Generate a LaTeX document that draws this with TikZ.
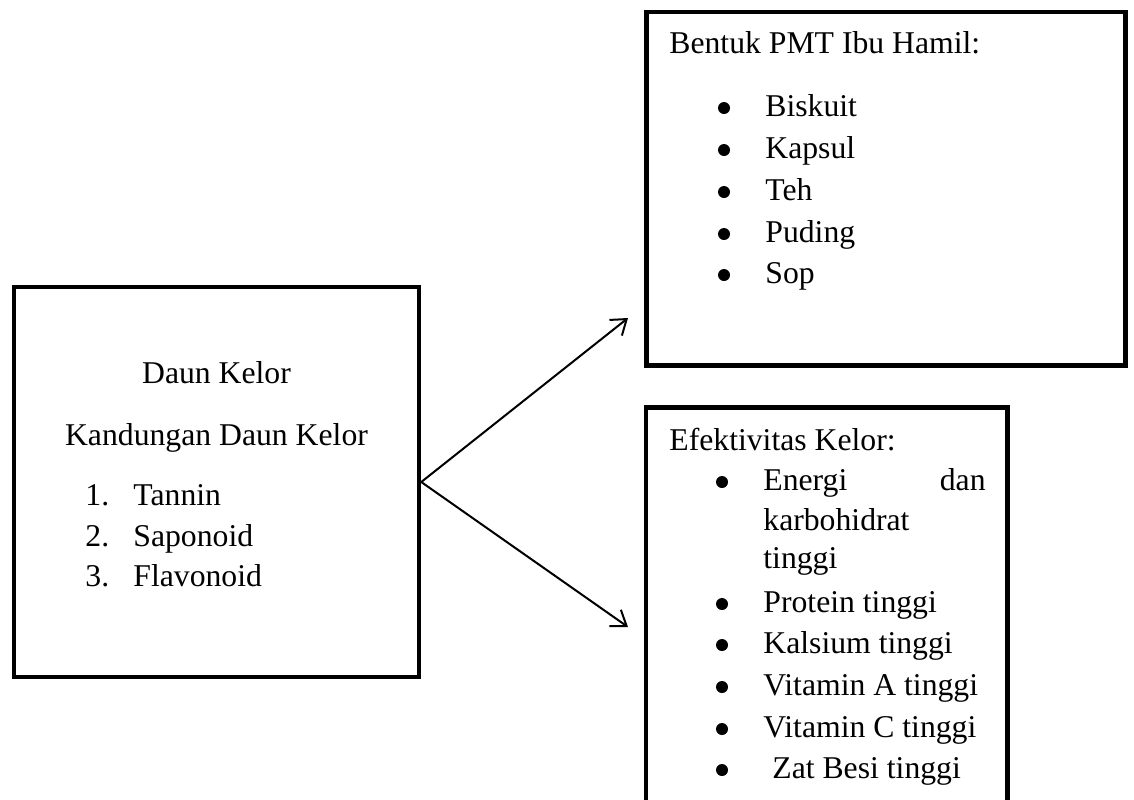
\documentclass[tikz,border=0pt]{standalone}
\usepackage{fontspec}
\setmainfont{Liberation Serif}
\usepackage{tikz}
\usetikzlibrary{arrows.meta, positioning}

\begin{document}
\begin{tikzpicture}[x=0.5pt, y=-0.5pt, font=\fontsize{15.85}{19}\selectfont]
		\tikzstyle{box} = [draw=black, rectangle, line width=2.25pt, inner sep=0pt]
		\tikzstyle{txt} = [inner sep=0pt, anchor=base west]
		\tikzstyle{mid} = [inner sep=0pt, anchor=base]
		\tikzstyle{dot} = [circle, fill=black, inner sep=0pt, minimum size=6pt]
		\tikzstyle{arrow} = [line width=1pt, -{Straight Barb[length=7pt, width=10pt, line width=1pt]}]
		
		\useasboundingbox (0, 0) rectangle (1134, 799);
		
		\node[box, minimum width=202.5pt, minimum height=195pt]		at (216.5, 482)		(kelor)	{};
		\node[box, minimum width=239.5pt, minimum height=176.75pt]	at (886, 188.75)	(pmt)	{};
		\node[box, minimum width=180.75pt, minimum height=197.25pt]	at (826.75, 604.75)	(efek)	{};
		
		\node[mid]	at (216.5, 383)		(k0)	{Daun Kelor};
		\node[mid]	at (216.5, 445)		(k1)	{Kandungan Daun Kelor};
		\node[txt]	at (85, 505)		(n1)	{1.};
		\node[txt]	at (133, 505)		(k2)	{Tannin};
		\node[txt]	at (85, 546)		(n2)	{2.};
		\node[txt]	at (133, 546)		(k3)	{Saponoid};
		\node[txt]	at (85, 586)		(n3)	{3.};
		\node[txt]	at (133, 586)		(k4)	{Flavonoid};
		
		\node[txt]	at (669, 53)		(p0)	{Bentuk PMT Ibu Hamil:};
		\node[dot]	at (724, 108)		(b1)	{};
		\node[txt]	at (765, 116)		(p1)	{Biskuit};
		\node[dot]	at (724, 150)		(b2)	{};
		\node[txt]	at (765, 158)		(p2)	{Kapsul};
		\node[dot]	at (724, 192)		(b3)	{};
		\node[txt]	at (765, 200)		(p3)	{Teh};
		\node[dot]	at (724, 234)		(b4)	{};
		\node[txt]	at (765, 242)		(p4)	{Puding};
		\node[dot]	at (724, 275)		(b5)	{};
		\node[txt]	at (765, 283)		(p5)	{Sop};
		
		\node[txt]	at (669, 450)		(e0)	{Efektivitas Kelor:};
		\node[dot]	at (722, 482)		(c1)	{};
		\node[txt]	at (763, 490)		(e1)	{Energi};
		\node[inner sep=0pt, anchor=base east]	at (986, 490)	(e1b)	{dan};
		\node[txt]	at (763, 530)		(e1c)	{karbohidrat};
		\node[txt]	at (763, 568)		(e1d)	{tinggi};
		\node[dot]	at (722, 604)		(c2)	{};
		\node[txt]	at (763, 612)		(e2)	{Protein tinggi};
		\node[dot]	at (722, 645)		(c3)	{};
		\node[txt]	at (763, 653)		(e3)	{Kalsium tinggi};
		\node[dot]	at (722, 687)		(c4)	{};
		\node[txt]	at (763, 695)		(e4)	{Vitamin A tinggi};
		\node[dot]	at (722, 729)		(c5)	{};
		\node[txt]	at (763, 737)		(e5)	{Vitamin C tinggi};
		\node[dot]	at (722, 770)		(c6)	{};
		\node[txt]	at (772, 778)		(e6)	{Zat Besi tinggi};
		
		\coordinate (tipA) at (628, 318);
		\coordinate (tipB) at (628, 627);
		
		\draw [arrow] (kelor.east) -- (tipA);
		\draw [arrow] (kelor.east) -- (tipB);
		
	\end{tikzpicture}
\end{document}
